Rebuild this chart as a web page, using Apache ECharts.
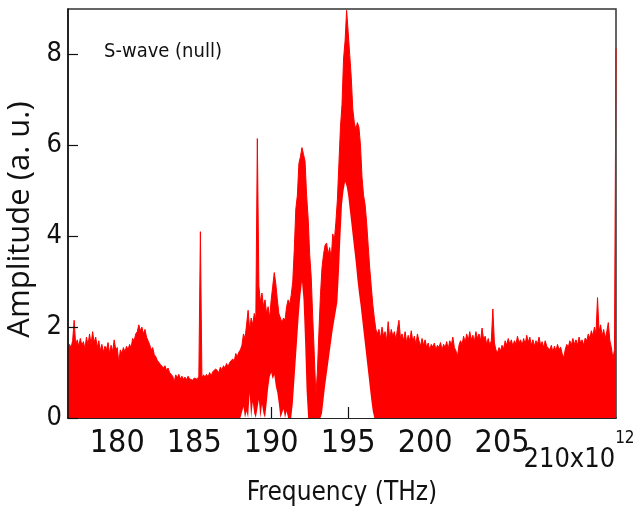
<!DOCTYPE html>
<html>
<head>
<meta charset="utf-8">
<script src="https://cdn.jsdelivr.net/npm/echarts@6/dist/echarts.min.js"></script>
<style>
  html, body { margin: 0; padding: 0; background: #fff; }
  #chart { width: 636px; height: 507px; }
</style>
</head>
<body>
<div id="chart"></div>
<script>
// Spectrum sampled every 0.1 THz from 176.8 THz to 212.4 THz.
const freqStart = 176.8;
const freqEnd = 212.4;
const freqStep = 0.1;

// Upper envelope of the amplitude (a. u.), one row per THz.
const amplitudeTop = [
  1.50, 1.62,                                                     // 176.8-176.9
  1.55, 1.70, 2.15, 1.60, 1.72, 1.58, 1.75, 1.60, 1.68, 1.52,     // 177
  1.78, 1.60, 1.85, 1.62, 1.90, 1.66, 1.78, 1.55, 1.70, 1.48,     // 178
  1.62, 1.45, 1.58, 1.50, 1.66, 1.42, 1.60, 1.46, 1.72, 1.50,     // 179
  1.55, 1.22, 1.50, 1.42, 1.55, 1.45, 1.58, 1.50, 1.62, 1.55,     // 180
  1.75, 1.70, 1.85, 1.90, 2.05, 1.92, 2.00, 1.85, 1.95, 1.78,     // 181
  1.80, 1.62, 1.50, 1.55, 1.40, 1.35, 1.27, 1.30, 1.18, 1.20,     // 182
  1.10, 1.15, 1.05, 1.10, 1.00, 1.02, 0.92, 0.80, 0.95, 0.88,     // 183
  0.96, 0.86, 0.92, 0.85, 0.90, 0.84, 0.92, 0.86, 0.90, 0.83,     // 184
  0.88, 0.90, 0.85, 0.92, 4.10, 0.88, 0.95, 0.90, 0.96, 0.90,     // 185
  1.00, 0.92, 1.02, 0.98, 1.08, 1.10, 1.00, 1.12, 1.05, 1.15,     // 186
  1.10, 1.20, 1.12, 1.22, 1.18, 1.30, 1.25, 1.42, 1.35, 1.45,     // 187
  1.50, 1.60, 1.85, 1.75, 2.05, 2.37, 1.95, 2.20, 2.05, 2.30,     // 188
  2.15, 6.15, 2.90, 2.55, 2.75, 2.45, 2.60, 2.30, 2.45, 2.20,     // 189
  2.60, 2.90, 3.20, 2.95, 2.60, 2.30, 2.20, 2.10, 2.20, 2.15,     // 190
  2.45, 2.60, 2.50, 2.70, 3.00, 3.70, 4.60, 4.90, 5.60, 5.75,     // 191
  5.95, 5.80, 5.65, 4.90, 4.40, 3.60, 3.10, 2.20, 1.40, 0.50,     // 192
  1.00, 1.90, 2.70, 3.30, 3.60, 3.80, 3.85, 3.60, 3.75, 3.50,     // 193
  4.05, 3.90, 4.30, 4.80, 5.60, 6.40, 6.90, 7.90, 8.30, 8.97,     // 194
  8.50, 8.00, 7.50, 6.80, 6.50, 6.35, 6.50, 6.40, 6.00, 5.30,     // 195
  4.90, 4.70, 4.30, 3.80, 3.30, 2.90, 2.50, 2.20, 1.95, 1.85,     // 196
  1.95, 1.75, 2.00, 1.80, 1.90, 1.70, 2.12, 1.75, 1.95, 1.80,     // 197
  1.90, 1.72, 1.95, 2.15, 1.75, 1.85, 1.70, 1.90, 1.66, 1.82,     // 198
  1.70, 1.92, 1.68, 1.80, 1.62, 1.85, 1.70, 1.58, 1.75, 1.60,     // 199
  1.72, 1.55, 1.65, 1.50, 1.62, 1.56, 1.65, 1.50, 1.60, 1.55,     // 200
  1.66, 1.50, 1.62, 1.55, 1.68, 1.52, 1.70, 1.60, 1.78, 1.55,     // 201
  1.48, 1.35, 1.60, 1.70, 1.62, 1.80, 1.66, 1.85, 1.70, 1.90,     // 202
  1.72, 1.82, 1.68, 1.90, 1.75, 1.85, 1.70, 1.98, 1.72, 1.80,     // 203
  1.62, 1.75, 1.60, 1.70, 2.40, 1.65, 1.50, 1.43, 1.55, 1.48,     // 204
  1.60, 1.52, 1.70, 1.60, 1.75, 1.62, 1.72, 1.58, 1.70, 1.62,     // 205
  1.80, 1.65, 1.72, 1.60, 1.75, 1.62, 1.82, 1.66, 1.78, 1.60,     // 206
  1.72, 1.58, 1.70, 1.62, 1.78, 1.60, 1.68, 1.55, 1.70, 1.58,     // 207
  1.62, 1.50, 1.60, 1.45, 1.58, 1.48, 1.62, 1.50, 1.56, 1.42,     // 208
  1.32, 1.50, 1.62, 1.55, 1.70, 1.60, 1.75, 1.62, 1.72, 1.60,     // 209
  1.78, 1.65, 1.72, 1.60, 1.76, 1.70, 1.85, 1.75, 1.92, 1.80,     // 210
  2.00, 1.85, 2.65, 1.90, 2.05, 1.80, 1.95, 1.75, 1.90, 2.10,     // 211
  1.70, 1.55, 1.30, 1.50, 8.13                                    // 212.0-212.4
];

// Lower envelope where the oscillation lifts off the baseline (188.0-196.9 THz).
const floorStart = 188.0;
const amplitudeFloor = [
  0.00, 0.00, 0.25, 0.00, 0.15, 0.00, 0.55, 0.00, 0.35, 0.10,     // 188
  0.00, 0.00, 0.40, 0.00, 0.30, 0.10, 0.00, 0.30, 0.65, 0.90,     // 189
  1.00, 0.85, 0.95, 0.70, 0.55, 0.30, 0.00, 0.00, 0.20, 0.00,     // 190
  0.15, 0.00, 0.00, 0.00, 0.30, 0.80, 1.30, 1.80, 2.30, 2.70,     // 191
  3.00, 2.60, 1.70, 0.60, 0.00, 0.00, 0.00, 0.00, 0.00, 0.00,     // 192
  0.00, 0.00, 0.00, 0.10, 0.40, 0.70, 0.95, 1.20, 1.45, 1.70,     // 193
  1.95, 2.15, 2.35, 2.55, 3.20, 4.00, 4.70, 5.00, 5.20, 5.10,     // 194
  4.90, 4.60, 4.30, 4.00, 3.70, 3.40, 3.05, 2.75, 2.50, 2.20,     // 195
  1.90, 1.60, 1.30, 1.00, 0.70, 0.40, 0.15, 0.00, 0.00, 0.00      // 196
];

const xTicks = [180, 185, 190, 195, 200, 205, 210];
const xTickLabels = [180, 185, 190, 195, 200, 205];
const xLastLabel = [210];
const xExponent = '12';
const yTicks = [0, 2, 4, 6, 8];

const freqAt = function (start, i) {
  return Math.round((start + i * freqStep) * 10) / 10;
};
const topData = amplitudeTop.map(function (v, i) { return [freqAt(freqStart, i), v]; });
const floorData = amplitudeFloor.map(function (v, i) { return [freqAt(floorStart, i), v]; });

const narrow = "'DejaVu Sans Condensed', 'Liberation Sans Narrow', sans-serif";
const ink = '#111';

const chart = echarts.init(document.getElementById('chart'), null, { renderer: 'canvas' });
chart.setOption({
  animation: false,
  backgroundColor: '#fff',
  title: {
    text: 'S-wave (null)',
    left: 104,
    top: 42,
    padding: 0,
    textStyle: { fontFamily: narrow, fontSize: 20, fontWeight: 'normal', color: ink }
  },
  grid: {
    left: 68, right: 20, top: 9, bottom: 89,
    outerBoundsMode: 'none',
    containLabel: false,
    show: true,
    borderColor: '#333',
    borderWidth: 1.5,
    backgroundColor: 'transparent'
  },
  xAxis: [{
    type: 'value',
    min: freqStart,
    max: freqEnd,
    name: 'Frequency (THz)',
    nameLocation: 'middle',
    nameGap: 62,
    nameTextStyle: { fontFamily: narrow, fontSize: 26, color: ink },
    axisLine: { lineStyle: { color: '#111', width: 1.5 } },
    axisTick: { inside: true, length: 11, customValues: xTicks, lineStyle: { color: '#111', width: 1.2 } },
    axisLabel: {
      customValues: xTickLabels,
      margin: 10,
      fontFamily: narrow,
      fontSize: 32,
      color: ink
    },
    splitLine: { show: false }
  }, {
    // Last tick label carries the axis multiplier; its ticks sit above the fill
    // wherever the spectrum drops back to the baseline.
    type: 'value',
    min: freqStart,
    max: freqEnd,
    position: 'bottom',
    z: 4,
    axisLine: { show: false },
    axisTick: { show: true, inside: true, length: 11, customValues: [190, 195], lineStyle: { color: '#111', width: 1.2 } },
    axisLabel: {
      customValues: xLastLabel,
      margin: 12,
      formatter: function (v) { return '{a|' + v + 'x10}{b|' + xExponent + '}'; },
      rich: {
        a: { fontFamily: narrow, fontSize: 27, color: ink, padding: [16, 0, 0, 0], verticalAlign: 'bottom' },
        b: { fontFamily: narrow, fontSize: 17, color: ink, verticalAlign: 'top' }
      }
    },
    splitLine: { show: false }
  }],
  yAxis: {
    type: 'value',
    min: 0,
    max: 9,
    z: 4,
    name: 'Amplitude (a. u.)',
    nameLocation: 'middle',
    nameGap: 27,
    nameTextStyle: { fontFamily: "'Open Sans', sans-serif", fontSize: 31, color: ink, padding: [0, 12, 0, 0] },
    axisLine: { show: true, lineStyle: { color: '#111', width: 1.5 } },
    axisTick: { show: true, inside: true, length: 10, customValues: yTicks, lineStyle: { color: '#111', width: 1.2 } },
    axisLabel: { customValues: yTicks, margin: 6, fontFamily: narrow, fontSize: 27, color: ink },
    splitLine: { show: false }
  },
  series: [{
    type: 'line',
    name: 'S-wave (null)',
    xAxisIndex: 0,
    data: topData,
    symbol: 'none',
    z: 2,
    lineStyle: { color: '#ff0000', width: 1 },
    areaStyle: { color: '#ff0000', opacity: 1 }
  }, {
    // Region under the lower envelope stays empty.
    type: 'line',
    name: 'floor',
    xAxisIndex: 0,
    data: floorData,
    symbol: 'none',
    z: 3,
    lineStyle: { width: 0, opacity: 0 },
    areaStyle: { color: '#ffffff', opacity: 1 }
  }]
});
</script>
</body>
</html>
